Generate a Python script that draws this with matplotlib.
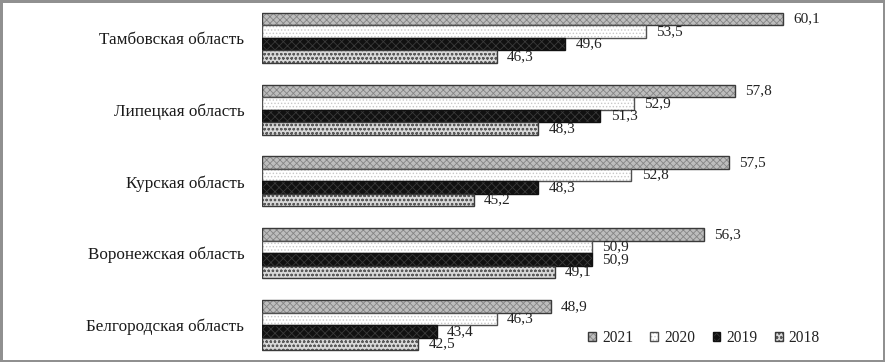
import matplotlib
matplotlib.use("Agg")
import matplotlib.pyplot as plt
from matplotlib.legend_handler import HandlerTuple
import numpy as np

plt.rcParams['font.family'] = ['Liberation Serif', 'DejaVu Serif']
plt.rcParams['hatch.linewidth'] = 0.6

regions = ["Тамбовская область", "Липецкая область", "Курская область",
           "Воронежская область", "Белгородская область"]
years = ["2021", "2020", "2019", "2018"]
v2021 = [60.1, 57.8, 57.5, 56.3, 48.9]
v2020 = [53.5, 52.9, 52.8, 50.9, 46.3]
v2019 = [49.6, 51.3, 48.3, 50.9, 43.4]
v2018 = [46.3, 48.3, 45.2, 49.1, 42.5]
series = [v2021, v2020, v2019, v2018]

styles = [
    dict(face='#bdbdbd', hatch='xxxxx', hcol='#858585', edge='#3a3a3a'),
    dict(face='#ffffff', hatch='.....', hcol='#c8c8c8', edge='#505050'),
    dict(face='#111111', hatch='xxxx', hcol='#3a3a3a', edge='#111111'),
    dict(face='#d8d8d8', hatch='oooo', hcol='#5a5a5a', edge='#3a3a3a'),
]

fig = plt.figure(figsize=(8.85, 3.62), dpi=100)
fig.patch.set_edgecolor('#909090')
fig.patch.set_linewidth(2.5)
ax = fig.add_axes([262.4/885, 0.0, 622/885, 1.0])

y = np.arange(len(regions))
h = 0.174
xmin = 35
handles = []
for i, (vals, st) in enumerate(zip(series, styles)):
    pos = y + (i - 1.5) * h
    widths = [v - xmin for v in vals]
    b = ax.barh(pos, widths, left=xmin, height=h, color=st['face'],
                hatch=st['hatch'], edgecolor=st['hcol'], linewidth=0)
    o = ax.barh(pos, widths, left=xmin, height=h, color='none',
                edgecolor=st['edge'], linewidth=1.0)
    handles.append((b, o))
    for p, v in zip(pos, vals):
        ax.text(v + 0.5, p, f"{v:.1f}".replace('.', ','), va='center',
                ha='left', fontsize=11, color='#222222')

ax.set_xlim(xmin, 65)
ax.set_ylim(4.515, -0.525)
ax.set_yticks(y)
ax.set_yticklabels(regions, fontsize=12.3, color='#1a1a1a')
ax.tick_params(axis='y', length=0, pad=13)
ax.set_xticks([])
for s in ax.spines.values():
    s.set_visible(False)
ax.patch.set_alpha(0)

leg = fig.legend(handles, years, loc='center right',
                 bbox_to_anchor=(820/885, 1 - 338/362),
                 ncol=4, frameon=False, fontsize=11.2, handlelength=0.5,
                 handleheight=0.5, handletextpad=0.4, columnspacing=1.1,
                 borderpad=0, borderaxespad=0,
                 handler_map={tuple: HandlerTuple(ndivide=1)})
for t in leg.get_texts():
    t.set_color('#222222')

fig.savefig("out.png", dpi=100)
